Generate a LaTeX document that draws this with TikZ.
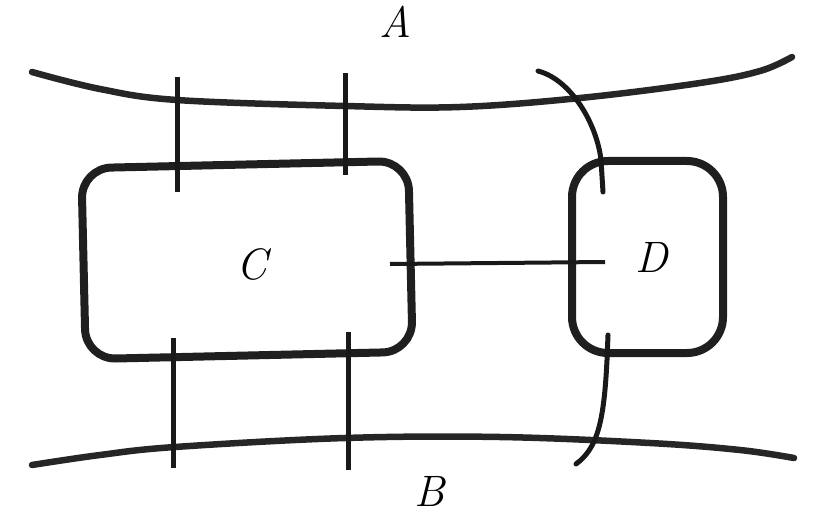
\documentclass[tikz,border=0pt]{standalone}
\begin{document}
\begin{tikzpicture}[x=1pt,y=-1pt,
  boxst/.style={draw=black!88,line width=8pt,rounded corners=#1,inner sep=0pt},
  curvest/.style={draw=black!85,line width=6.5pt,line cap=round},
  tickst/.style={draw=black!90,line width=5pt},
  thinst/.style={draw=black!90,line width=4pt},
  lab/.style={font=\fontsize{44}{48}\selectfont\itshape,inner sep=0pt}]
\useasboundingbox (0,0) rectangle (813,513);
% boxes
\node[boxst=30pt,minimum width=327pt,minimum height=191pt,rotate=1.3] (C) at (247,260) {};
\node[boxst=36pt,minimum width=151pt,minimum height=192pt] (D) at (647.5,257) {};
% labels
\node[lab] (la) at (395,22) {A};
\node[lab] (lb) at (430,491) {B};
\node[lab] (lc) at (252,264) {C};
\node[lab] (ld) at (652,257) {D};
% curves A and B
\draw[curvest] plot[smooth,tension=0.6] coordinates {(32,72) (100,89) (177,100) (345,106) (460,107) (580,98) (700,83) (760,71) (792,57)};
\draw[curvest] plot[smooth,tension=0.6] coordinates {(32,465) (100,455) (175,447) (345,438) (500,437) (650,443) (740,450) (794,458)};
% ticks crossing C
\draw[tickst] (177,77) -- (177,192);
\draw[tickst] (345,73) -- (345,175);
\draw[tickst] (173,338) -- (173,468);
\draw[tickst] (348,332) -- (348,470);
% link C--D
\coordinate (cl) at (390,264);
\coordinate (dl) at (605,262);
\draw[thinst] (cl) -- (dl);
% curves to D
\coordinate (ta) at (538,71);
\coordinate (tb) at (603,192);
\coordinate (ba) at (608,335);
\coordinate (bb) at (576,464);
\draw[tickst,line cap=round] (ta) .. controls (572,80) and (597,125) .. (601,160) -- (tb);
\draw[tickst,line cap=round] (ba) -- (607,360) .. controls (604,420) and (598,448) .. (bb);
\end{tikzpicture}
\end{document}
